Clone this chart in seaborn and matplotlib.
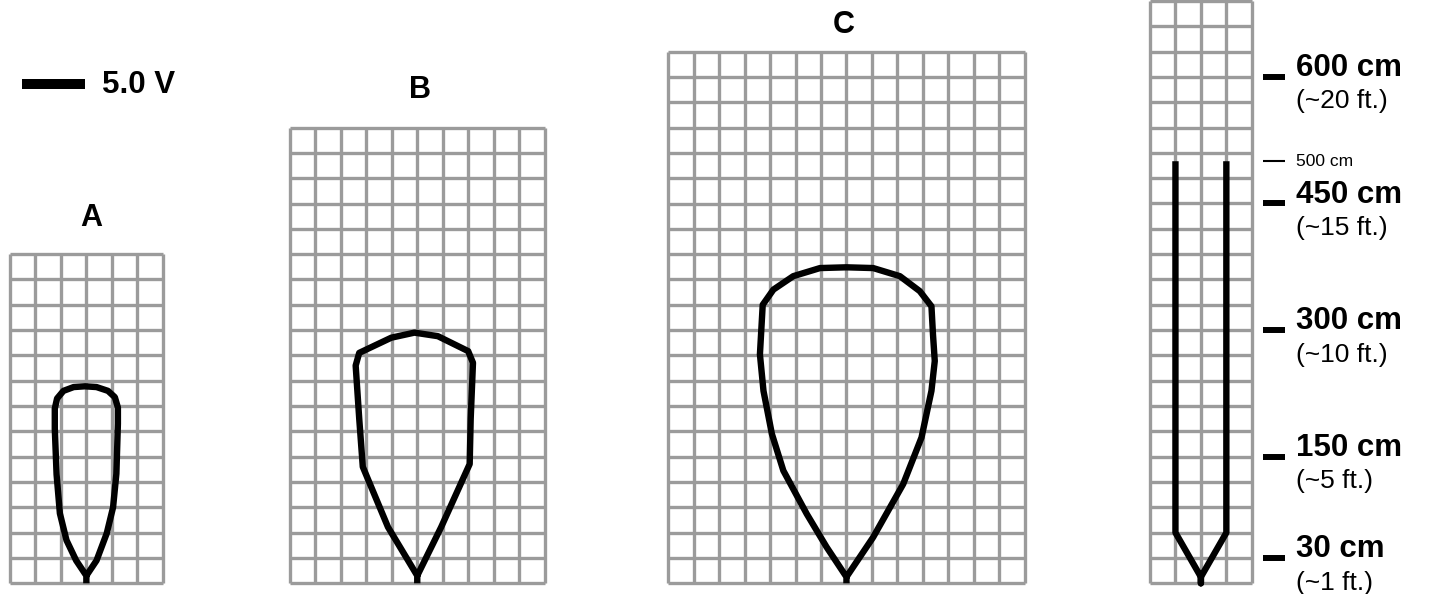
import matplotlib
matplotlib.use('Agg')
import matplotlib.pyplot as plt
from matplotlib.lines import Line2D
import seaborn as sns

sns.set_theme(style='white')
plt.rcParams['font.family'] = ['Liberation Sans', 'DejaVu Sans']
plt.rcParams['text.color'] = 'black'

# panels: name, grid size (cells)
names = ['A', 'B', 'C', '']
cols = [6, 10, 14, 4]
rows = [13, 18, 21, 23]

# field outlines, in grid cells (x from left edge, y from ground/bottom)
a_x = [3, 3, 2.6, 2.22, 1.96, 1.83, 1.76, 1.76, 1.85, 2.1, 2.5, 2.94, 3.4, 3.85, 4.12, 4.24, 4.24, 4.18, 4.05, 3.8, 3.4, 3]
a_y = [0, 0.3, 0.9, 1.7, 2.76, 4.3, 6.1, 6.9, 7.3, 7.6, 7.75, 7.78, 7.75, 7.6, 7.35, 6.94, 6.3, 4.33, 3.0, 1.97, 0.9, 0.3]

b_x = [5, 5, 3.85, 2.86, 2.72, 2.58, 2.72, 3.98, 4.89, 5.81, 7.0, 7.19, 7.1, 7.06, 5.94, 5]
b_y = [0, 0.3, 2.22, 4.6, 6.5, 8.6, 9.1, 9.7, 9.9, 9.76, 9.17, 8.71, 6.5, 4.71, 2.22, 0.3]

c_x = [7, 7, 6.22, 5.44, 4.52, 4.07, 3.74, 3.6, 3.71, 4.13, 4.91, 5.96, 7.0, 8.05, 9.1, 9.88,
       10.34, 10.4, 10.47, 10.34, 9.95, 9.23, 8.05, 7]
c_y = [0, 0.25, 1.43, 2.74, 4.45, 5.9, 7.6, 9.04, 11.0, 11.6, 12.13, 12.45, 12.48, 12.45, 12.13, 11.54,
       10.94, 9.83, 8.78, 7.6, 5.76, 3.92, 1.82, 0.25]

# probe
d_x = [1, 1, 2, 2, 2, 3, 3]
d_y = [16.67, 2, 0.25, 0, 0.25, 2, 16.67]

# depth scale (1 cell = 30 cm)
depth_cm = [600, 450, 300, 150, 30]
depth_ft = ['~20', '~15', '~10', '~5', '~1']
probe_cm = 500

curves_x = [a_x, b_x, c_x, d_x]
curves_y = [a_y, b_y, c_y, d_y]

W, H = 1445, 594
cell_w, cell_h = 25.45, 25.32
base = 583.3
lefts = [10, 290, 668.3, 1150]
label_gap = [1.12, 1.18, 0.73, 0]
label_dx = [0.2, 0.1, -0.1, 0]

fig = plt.figure(figsize=(W / 100, H / 100), dpi=100)
fig.patch.set_facecolor('white')

axes = []
for i in range(4):
    w = cols[i] * cell_w
    h = rows[i] * cell_h
    ax = fig.add_axes([lefts[i] / W, (H - base) / H, w / W, h / H])
    ax.set_xlim(0, cols[i])
    ax.set_ylim(0, rows[i])
    ax.axis('off')
    ax.hlines(range(rows[i] + 1), 0, cols[i], color='#9b9b9b', lw=2.4, clip_on=False, zorder=1)
    ax.vlines(range(cols[i] + 1), 0, rows[i], color='#9b9b9b', lw=2.4, clip_on=False, zorder=1)
    sns.lineplot(x=curves_x[i], y=curves_y[i], sort=False, estimator=None, color='black',
                 lw=4.6, ax=ax, solid_joinstyle='round', solid_capstyle='butt', zorder=3)
    for ln in ax.lines:
        ln.set_clip_on(False)
    if names[i]:
        ax.text(cols[i] / 2 + label_dx[i], rows[i] + label_gap[i], names[i], ha='center', va='baseline',
                fontsize=22, fontweight='bold', color='black')
    axes.append(ax)

# depth labels next to the probe
ax = axes[3]
ys = [c / 30 for c in depth_cm]
ax.hlines(ys, 4.43, 5.29, color='black', lw=4.3, clip_on=False)
for c, ft, y in zip(depth_cm, depth_ft, ys):
    ax.annotate(f'{c} cm', xy=(5.73, y), xytext=(0, 0.7), textcoords='offset points',
                ha='left', va='baseline', fontsize=22.5, fontweight='bold', annotation_clip=False)
    ax.annotate(f'({ft} ft.)', xy=(5.73, y), xytext=(0, -22.7), textcoords='offset points',
                ha='left', va='baseline', fontsize=19, annotation_clip=False)
ax.hlines([probe_cm / 30], 4.43, 5.29, color='black', lw=1.5, clip_on=False)
ax.annotate(f'{probe_cm} cm', xy=(5.73, probe_cm / 30), xytext=(0, 0), textcoords='offset points',
            ha='left', va='center', fontsize=12.5, annotation_clip=False)

# scale bar
fig.add_artist(Line2D([22 / W, 85 / W], [1 - 84 / H, 1 - 84 / H], transform=fig.transFigure,
                      color='black', lw=7.2, solid_capstyle='butt'))
fig.text(101.7 / W, 1 - 93.3 / H, '5.0 V', ha='left', va='baseline', fontsize=22.5, fontweight='bold')

fig.savefig('out.png', dpi=100, facecolor='white')
